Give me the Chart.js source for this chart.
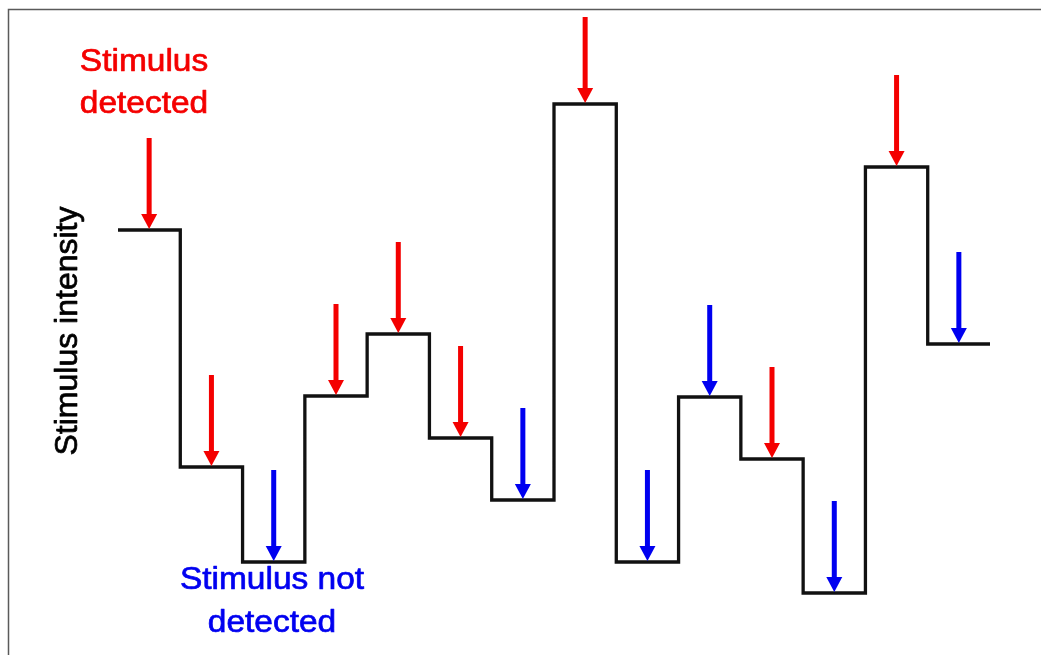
<!DOCTYPE html>
<html>
<head>
<meta charset="utf-8">
<script src="https://cdn.jsdelivr.net/npm/chart.js@4"></script>
<style>
  html, body { margin: 0; padding: 0; background: #fff; }
  #wrap { width: 1041px; height: 655px; position: relative; }
</style>
</head>
<body>
<div id="wrap"><canvas id="c" width="1041" height="655"></canvas></div>
<script>
// Trial number (step index) and the stimulus intensity presented at each trial (arbitrary units)
const trials = [1, 2, 3, 4, 5, 6, 7, 8, 9, 10, 11, 12, 13, 14];
const intensity = [410, 173, 78, 244, 306, 202, 140, 536, 78, 243, 181, 47, 473, 296];
// Whether the subject detected the stimulus on each trial
const detected = [true, true, false, true, true, true, false, true, false, false, true, false, true, false];
// Text labels
const yTitle = 'Stimulus intensity';
const detectedLabel = ['Stimulus', 'detected'];
const notDetectedLabel = ['Stimulus not', 'detected'];

const RED = '#f40000';
const BLUE = '#0000f0';
const ARROW_LEN = 92;   // arrow length in intensity units
const Y_MAX = 623;

// Step line points: each trial holds its level over [i, i+1]
const stepPoints = intensity.map((v, i) => ({ x: i, y: v }));
stepPoints.push({ x: intensity.length, y: intensity[intensity.length - 1] });

const overlay = {
  id: 'overlay',
  afterDatasetsDraw(chart) {
    const ctx = chart.ctx;
    const xs = chart.scales.x, ys = chart.scales.y;
    ctx.save();
    // arrows
    intensity.forEach((v, i) => {
      const x = xs.getPixelForValue(i + 0.5);
      const tip = ys.getPixelForValue(v) - 1;
      const top = ys.getPixelForValue(Math.min(v + ARROW_LEN, Y_MAX));
      const col = detected[i] ? RED : BLUE;
      const headH = 15, headW = 16, shaftW = 5;
      ctx.fillStyle = col;
      ctx.fillRect(x - shaftW / 2, top, shaftW, tip - headH - top + 1);
      ctx.beginPath();
      ctx.moveTo(x - headW / 2, tip - headH);
      ctx.lineTo(x + headW / 2, tip - headH);
      ctx.lineTo(x, tip);
      ctx.closePath();
      ctx.fill();
    });
    ctx.restore();
  },
  afterDraw(chart) {
    const ctx = chart.ctx;
    ctx.save();
    // frame (top and left edges)
    ctx.strokeStyle = '#5a5a5a';
    ctx.lineWidth = 1.5;
    ctx.beginPath();
    ctx.moveTo(8.5, 655);
    ctx.lineTo(8.5, 9.5);
    ctx.lineTo(1041, 9.5);
    ctx.stroke();

    ctx.textAlign = 'center';
    ctx.textBaseline = 'alphabetic';
    ctx.font = '31px "Liberation Sans", Arial, sans-serif';
    ctx.lineWidth = 0.7;
    ctx.lineJoin = 'round';
    const drawLines = (lines, cx, baselines, col) => {
      ctx.fillStyle = col;
      ctx.strokeStyle = col;
      lines.forEach((t, k) => {
        ctx.save();
        ctx.translate(cx, baselines[k]);
        ctx.scale(1.08, 1);
        ctx.fillText(t, 0, 0);
        ctx.strokeText(t, 0, 0);
        ctx.restore();
      });
    };
    drawLines(detectedLabel, 144, [71, 113], RED);
    drawLines(notDetectedLabel, 272, [589, 632], BLUE);

    // y title
    ctx.fillStyle = '#000';
    ctx.strokeStyle = '#000';
    ctx.font = '32px "Liberation Sans", Arial, sans-serif';
    ctx.translate(77, 331);
    ctx.rotate(-Math.PI / 2);
    ctx.fillText(yTitle, 0, 0);
    ctx.strokeText(yTitle, 0, 0);
    ctx.restore();
  }
};

new Chart(document.getElementById('c'), {
  type: 'line',
  data: {
    datasets: [{
      label: 'Stimulus intensity',
      data: stepPoints,
      stepped: 'before',
      borderColor: '#111',
      borderWidth: 3.3,
      borderCapStyle: 'butt',
      borderJoinStyle: 'miter',
      pointRadius: 0,
      fill: false,
      tension: 0
    }]
  },
  options: {
    responsive: false,
    animation: false,
    events: [],
    layout: { padding: { left: 118, right: 51, top: 17, bottom: 15 } },
    plugins: { legend: { display: false }, tooltip: { enabled: false } },
    scales: {
      x: { type: 'linear', min: 0, max: trials.length, display: false },
      y: { type: 'linear', min: 0, max: Y_MAX, display: false }
    }
  },
  plugins: [overlay]
});
</script>
</body>
</html>
